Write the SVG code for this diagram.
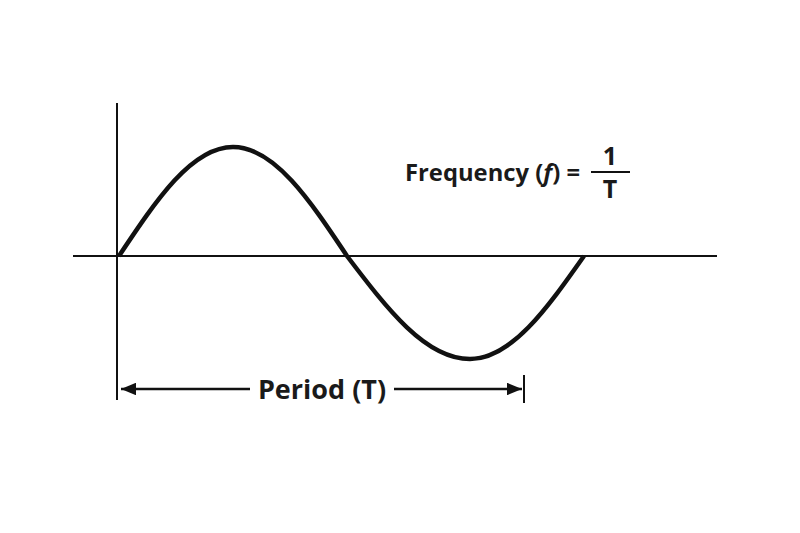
<svg xmlns="http://www.w3.org/2000/svg" width="800" height="533" viewBox="0 0 800 533">
<style>
.axis{stroke:#111;stroke-width:2;fill:none}
.wave{stroke:#111;stroke-width:4.5;fill:none}
.dim{stroke:#111;stroke-width:2.5;fill:none}
.lbl{font-family:"Open Sans","Liberation Sans",sans-serif;font-weight:700;fill:#1a1a1a}
</style>
<defs>
<marker id="ah" viewBox="0 0 12 10" refX="12" refY="5" markerWidth="6" markerHeight="5" markerUnits="strokeWidth" orient="auto-start-reverse">
<path d="M0,0 L12,5 L0,10 Z" fill="#111"/>
</marker>
</defs>
<rect width="800" height="533" fill="#fff"/>
<g id="axes">
<line class="axis" x1="117" y1="103" x2="117" y2="400"/>
<line class="axis" x1="73" y1="256" x2="717" y2="256"/>
</g>
<g id="wave">
<path class="wave" d="M119,256 C156.2,200.2 191.7,147 233,147 C274.3,147 309.8,200.2 347,256 C387.1,308.8 425.5,359 470,359 C511.3,359 546.8,308.8 584,256"/>
</g>
<g id="connectors">
<line class="axis" x1="524" y1="375" x2="524" y2="403"/>
<line class="dim" x1="250" y1="389" x2="121" y2="389" marker-end="url(#ah)"/>
<line class="dim" x1="394" y1="389" x2="522" y2="389" marker-end="url(#ah)"/>
</g>
<g id="period-label">
<text class="lbl" x="322" y="399" font-size="27" text-anchor="middle">Period (T)</text>
</g>
<g id="frequency-label">
<text class="lbl" x="405" y="181" font-size="23" textLength="175" lengthAdjust="spacingAndGlyphs">Frequency (<tspan font-style="italic">f</tspan>) =</text>
<line x1="591" y1="172" x2="630" y2="172" stroke="#111" stroke-width="2.2"/>
<text class="lbl" x="610" y="165" font-size="25" text-anchor="middle">1</text>
<text class="lbl" x="610" y="198" font-size="25" text-anchor="middle">T</text>
</g>
</svg>
